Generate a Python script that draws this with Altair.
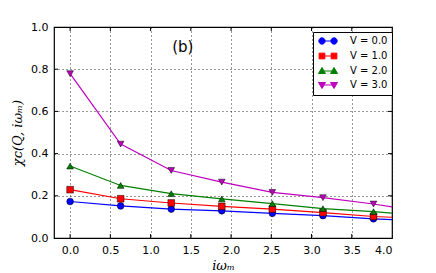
import altair as alt
import pandas as pd

freq = [0.0, 0.628, 1.257, 1.885, 2.513, 3.142, 3.770, 4.398]
v_labels = ["V = 0.0", "V = 1.0", "V = 2.0", "V = 3.0"]
chi_v0 = [0.173, 0.152, 0.137, 0.129, 0.117, 0.106, 0.091, 0.080]
chi_v1 = [0.229, 0.186, 0.166, 0.150, 0.137, 0.120, 0.102, 0.092]
chi_v2 = [0.341, 0.249, 0.210, 0.185, 0.163, 0.139, 0.125, 0.106]
chi_v3 = [0.779, 0.445, 0.320, 0.265, 0.216, 0.191, 0.161, 0.123]
x_ticks = [0.0, 0.5, 1.0, 1.5, 2.0, 2.5, 3.0, 3.5, 4.0]
y_ticks = [0.0, 0.2, 0.4, 0.6, 0.8, 1.0]
colors = ["#0000ff", "#ff0000", "#008000", "#bf00bf"]
shapes = ["circle", "square", "triangle-up", "triangle-down"]
# legend glyphs: marker - line - marker
legend_glyphs = [
    "M-1,0 A1,1 0 1,0 1,0 A1,1 0 1,0 -1,0 Z M1,0 L2.8,0 M2.8,0 A1,1 0 1,0 4.8,0 A1,1 0 1,0 2.8,0 Z",
    "M-0.9,-0.9 h1.8 v1.8 h-1.8 Z M0.9,0 L2.9,0 M2.9,-0.9 h1.8 v1.8 h-1.8 Z",
    "M0,-1.1 L1.1,0.8 L-1.1,0.8 Z M0.6,0 L3.2,0 M3.8,-1.1 L4.9,0.8 L2.7,0.8 Z",
    "M0,1.1 L1.1,-0.8 L-1.1,-0.8 Z M0.6,0 L3.2,0 M3.8,1.1 L4.9,-0.8 L2.7,-0.8 Z",
]

W, H = 338, 211

rows = []
for lab, series in zip(v_labels, [chi_v0, chi_v1, chi_v2, chi_v3]):
    for f, c in zip(freq, series):
        rows.append({"freq": f, "chi": c, "V": lab})
df = pd.DataFrame(rows)

xs = alt.Scale(domain=[-0.2, 4.0], nice=False, zero=False)
ys = alt.Scale(domain=[0.0, 1.0], nice=False)

leg = alt.Legend(title=None, orient="none", legendX=259, legendY=5, padding=4,
                 labelFontSize=10, labelFont="DejaVu Sans", labelColor="black",
                 symbolSize=40, rowPadding=4, labelOffset=23, cornerRadius=0,
                 strokeColor="black", fillColor="white", symbolOpacity=1,
                 symbolStrokeWidth=1)

base = alt.Chart(df)
axis_common = dict(format=".1f", grid=True, gridColor="black", gridDash=[1, 3],
                   gridOpacity=0.8, tickSize=0, labelPadding=6, labelFontSize=11,
                   labelFont="DejaVu Sans", labelColor="black", titleColor="black",
                   titleFont="DejaVu Serif", titleFontStyle="italic",
                   titleFontWeight="normal", titleFontSize=13, domain=False)
xenc = alt.X("freq:Q", scale=xs,
             axis=alt.Axis(values=x_ticks, title="iωₘ", titlePadding=4, **axis_common))
yenc = alt.Y("chi:Q", scale=ys,
             axis=alt.Axis(values=y_ticks, title="χc(Q, iωₘ)", titlePadding=6, **axis_common))

cscale = alt.Scale(domain=v_labels, range=colors)

lines = base.mark_line(clip=True, strokeWidth=1.2).encode(
    x=xenc, y=yenc, stroke=alt.Stroke("V:N", scale=cscale, legend=None), detail="V:N")
points = base.mark_point(clip=True, filled=True, size=45, stroke="black",
                         strokeWidth=0.5, opacity=1).encode(
    x="freq:Q", y="chi:Q",
    fill=alt.Fill("V:N", scale=cscale, legend=None),
    shape=alt.Shape("V:N", scale=alt.Scale(domain=v_labels, range=shapes), legend=None))

legend_layer = base.mark_point(clip=True, size=40, opacity=0, strokeWidth=1).encode(
    x="freq:Q", y="chi:Q",
    fill=alt.Fill("V:N", scale=cscale, legend=leg),
    stroke=alt.Stroke("V:N", scale=cscale, legend=leg),
    shape=alt.Shape("V:N", scale=alt.Scale(domain=v_labels, range=legend_glyphs),
                    legend=leg))

xt = pd.DataFrame({"t": x_ticks[:-1]})
yt = pd.DataFrame({"t": y_ticks[1:-1]})
tick_b = alt.Chart(xt).mark_rule(color="black").encode(
    x=alt.X("t:Q", scale=xs), y=alt.value(H), y2=alt.value(H - 4))
tick_t = alt.Chart(xt).mark_rule(color="black").encode(
    x=alt.X("t:Q", scale=xs), y=alt.value(0), y2=alt.value(4))
tick_l = alt.Chart(yt).mark_rule(color="black").encode(
    y=alt.Y("t:Q", scale=ys), x=alt.value(0), x2=alt.value(4))
tick_r = alt.Chart(yt).mark_rule(color="black").encode(
    y=alt.Y("t:Q", scale=ys), x=alt.value(W), x2=alt.value(W - 4))

label = alt.Chart(pd.DataFrame({"x": [1.40], "y": [0.907], "t": ["(b)"]})).mark_text(
    fontSize=15, font="DejaVu Sans", color="black").encode(
    x=alt.X("x:Q", scale=xs), y=alt.Y("y:Q", scale=ys), text="t:N")

chart = alt.layer(lines, points, legend_layer, tick_b, tick_t, tick_l, tick_r, label).resolve_scale(
    shape="independent", fill="independent", stroke="independent"
).properties(
    width=W, height=H,
    autosize=alt.AutoSizeParams(type="none"),
    padding={"left": 46, "top": 19, "right": 36, "bottom": 35},
).configure_view(stroke="black", strokeWidth=1.2)

chart.save("out.html", embed_options={"renderer": "svg", "actions": False})
